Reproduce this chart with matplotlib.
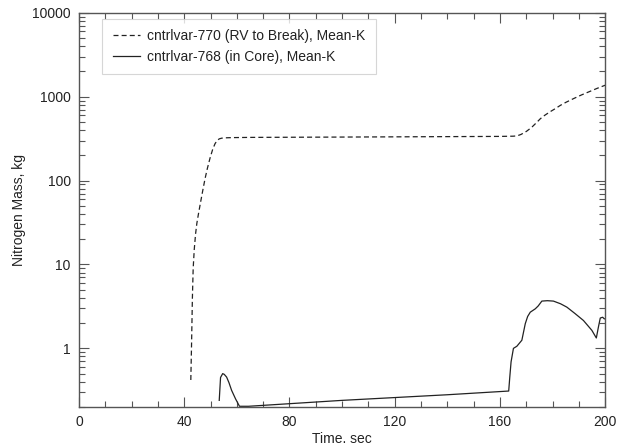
import matplotlib
matplotlib.use("Agg")
import matplotlib.pyplot as plt
from matplotlib.ticker import MultipleLocator, LogLocator, NullFormatter

plt.rcParams['font.family'] = ['Liberation Sans', 'DejaVu Sans']

# cntrlvar-770 (RV to Break)
t_brk = [42.5, 42.8, 43.1, 43.4, 43.8, 44.3, 44.8, 45.4, 46.2, 47.0, 47.9, 48.8, 49.8,
         50.8, 51.7, 52.5, 53.3, 54.2, 55.5, 58.0, 65.0, 100.0, 140.0, 160.0, 165.0,
         166.5, 168.0, 170.0, 172.0, 174.0, 175.3, 177.0, 179.0, 181.0, 183.0, 185.0,
         188.0, 191.0, 194.0, 197.0, 200.0]
m_brk = [0.42, 1.2, 4.0, 9.0, 15.0, 23.0, 31.0, 40.0, 55.0, 75.0, 105.0, 140.0, 185.0,
         235.0, 275.0, 300.0, 314.0, 320.0, 323.0, 325.0, 327.0, 330.0, 334.0, 336.0, 338.0,
         341.0, 355.0, 385.0, 430.0, 495.0, 545.0, 600.0, 660.0, 720.0, 790.0, 855.0,
         950.0, 1050.0, 1150.0, 1260.0, 1370.0]

# cntrlvar-768 (in Core)
t_core = [53.3, 53.8, 54.3, 54.6, 55.2, 56.1, 57.0, 58.0, 59.5, 61.0, 64.4, 100.0,
          140.0, 163.3, 163.7, 164.2, 165.1, 166.4, 168.3, 169.6, 170.5, 171.5,
          173.4, 174.5, 175.9, 178.0, 180.3, 183.0, 185.4, 188.5, 191.7, 194.9,
          196.6, 197.4, 198.1, 199.0, 199.6, 200.0]
m_core = [0.24, 0.45, 0.48, 0.50, 0.49, 0.455, 0.39, 0.316, 0.25, 0.204, 0.204, 0.24,
          0.28, 0.31, 0.45, 0.69, 1.0, 1.06, 1.25, 1.97, 2.4, 2.7,
          2.96, 3.2, 3.66, 3.7, 3.66, 3.4, 3.1, 2.6, 2.15, 1.64,
          1.33, 1.8, 2.3, 2.35, 2.25, 2.25]

xticks = [0, 40, 80, 120, 160, 200]
yticks = [1, 10, 100, 1000, 10000]

fig = plt.figure(figsize=(6.17, 4.48), dpi=100)
ax = fig.add_axes([0.128, 0.0915, 0.853, 0.880])

ax.plot(t_brk, m_brk, color="#222222", linewidth=0.9, linestyle=(0, (4, 2.5)),
        label="cntrlvar-770 (RV to Break), Mean-K")
ax.plot(t_core, m_core, color="#222222", linewidth=0.9, linestyle="-",
        label="cntrlvar-768 (in Core), Mean-K")

ax.set_yscale("log")
ax.set_xlim(0, 200)
ax.set_ylim(0.2, 10000)
ax.set_xticks(xticks)
ax.set_xticklabels([str(v) for v in xticks])
ax.xaxis.set_minor_locator(MultipleLocator(10))
ax.set_yticks(yticks)
ax.set_yticklabels([str(v) for v in yticks])
ax.yaxis.set_minor_locator(LogLocator(base=10, subs=range(2, 10)))
ax.yaxis.set_minor_formatter(NullFormatter())

ax.tick_params(which="both", direction="in", top=True, right=True,
               color="#555555", labelcolor="#222222", labelsize=10)
ax.tick_params(which="major", length=7, width=0.8, pad=6)
ax.tick_params(which="minor", length=4.5, width=0.8)
for s in ax.spines.values():
    s.set_color("#555555")
    s.set_linewidth(1.0)

ax.set_xlabel("Time. sec", fontsize=10, color="#222222", labelpad=2)
ax.set_ylabel("Nitrogen Mass, kg", fontsize=10, color="#222222", labelpad=4)

leg = ax.legend(loc="upper left", bbox_to_anchor=(0.044, 0.985), borderaxespad=0,
                fontsize=10, fancybox=False, frameon=True, edgecolor="#cccccc",
                handlelength=2.0, labelspacing=0.5, borderpad=0.75,
                handletextpad=0.5)
leg.get_frame().set_linewidth(0.8)
for txt in leg.get_texts():
    txt.set_color("#222222")

fig.savefig("out.png", dpi=100)
